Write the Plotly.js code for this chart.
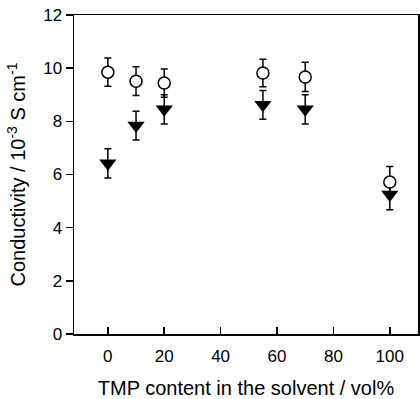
<!DOCTYPE html>
<html><head><meta charset="utf-8">
<script src="https://cdn.plot.ly/plotly-3.0.1.min.js"></script>
<style>html,body{margin:0;padding:0;background:#fff}#chart{width:420px;height:399px}</style>
</head><body><div id="chart"></div>
<script>
const tmpContent = [0, 10, 20, 55, 70, 100];
const circleValues = [9.85, 9.51, 9.44, 9.82, 9.67, 5.72];
const circleErrors = [0.53, 0.54, 0.53, 0.52, 0.55, 0.58];
const triangleValues = [6.42, 7.84, 8.45, 8.62, 8.45, 5.25];
const triangleErrors = [0.55, 0.54, 0.55, 0.54, 0.55, 0.58];
const xTicks = [0, 20, 40, 60, 80, 100];
const yTicks = [0, 2, 4, 6, 8, 10, 12];

const tickFont = {family: 'Liberation Sans, Arial, sans-serif', size: 17, color: '#000'};
const titleFont = {family: 'Liberation Sans, Arial, sans-serif', size: 20, color: '#000'};

const traces = [
  {
    x: tmpContent, y: triangleValues, type: 'scatter', mode: 'markers',
    marker: {symbol: 'triangle-down', size: 15, color: '#000', line: {width: 0}},
    error_y: {type: 'data', array: triangleErrors, visible: true, color: '#000', thickness: 1.5, width: 3.5},
    showlegend: false, cliponaxis: false
  },
  {
    x: tmpContent, y: circleValues, type: 'scatter', mode: 'markers',
    marker: {symbol: 'circle', size: 12, color: '#fff', line: {color: '#000', width: 1.5}},
    error_y: {type: 'data', array: circleErrors, visible: true, color: '#000', thickness: 1.5, width: 3.5},
    showlegend: false, cliponaxis: false
  }
];

const layout = {
  width: 420, height: 399,
  margin: {l: 74, r: 2, t: 15, b: 65, pad: 0},
  paper_bgcolor: '#fff', plot_bgcolor: '#fff',
  font: tickFont,
  xaxis: {
    range: [-12, 110], tickvals: xTicks, ticktext: xTicks.map(String),
    ticks: 'inside', ticklen: 7, tickwidth: 1.5, tickcolor: '#000',
    showline: true, linecolor: '#000', linewidth: 1.5, mirror: true,
    showgrid: false, zeroline: false, ticklabelstandoff: 6,
    tickfont: tickFont,
    title: {text: 'TMP content in the solvent / vol%', font: titleFont, standoff: 16}
  },
  yaxis: {
    range: [0, 12], tickvals: yTicks, ticktext: yTicks.map(String),
    ticks: 'outside', ticklen: 7, tickwidth: 1.5, tickcolor: '#000',
    showline: true, linecolor: '#000', linewidth: 1.5, mirror: true,
    showgrid: false, zeroline: false,
    tickfont: tickFont,
    title: {text: 'Conductivity / 10<sup>-3</sup> S cm<sup>-1</sup>', font: titleFont, standoff: 12}
  }
};

Plotly.newPlot('chart', traces, layout, {staticPlot: true, displayModeBar: false});
</script>
</body></html>
